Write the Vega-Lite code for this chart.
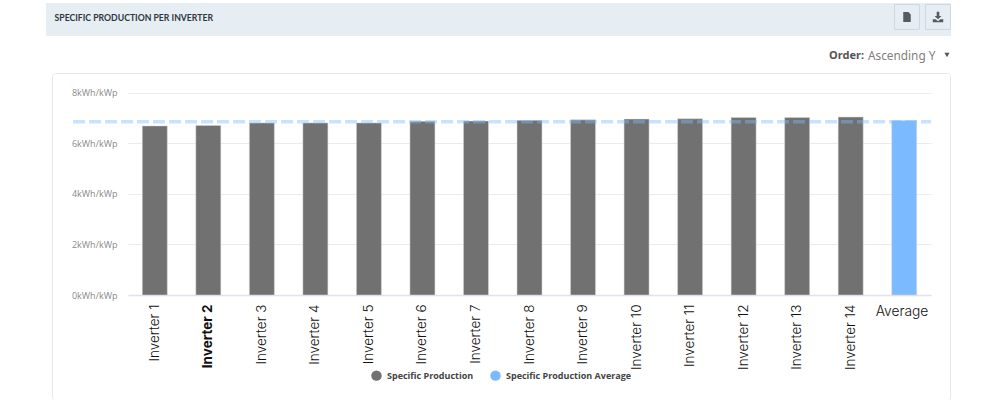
{
"$schema":"https://vega.github.io/schema/vega-lite/v6.json",
"width":898,"height":327,
"autosize":{"type":"none"},
"padding":{"left":52,"top":73,"right":50,"bottom":0},
"background":"#ffffff",
"view":{"stroke":"#e8e8e8","strokeWidth":1,"cornerRadius":3,"fill":"#ffffff"},
"resolve":{"scale":{"x":"independent","y":"independent"}},
"layer":[
{"data":{"values":[{"from":"left","to":"right","top":"top","bottom":"bottom"}]},
 "mark":{"type":"rect","fill":"#e6eef4","clip":false},
 "encoding":{
  "x":{"field":"from","type":"nominal","axis":null,"scale":{"type":"point","domain":["left","right"],"range":[-6,899],"padding":0}},
  "x2":{"field":"to"},
  "y":{"field":"top","type":"nominal","axis":null,"scale":{"type":"point","domain":["top","bottom"],"range":[-70,-37],"padding":0}},
  "y2":{"field":"bottom"}}},
{"data":{"values":[{"label":"SPECIFIC PRODUCTION PER INVERTER","lane":"header"}]},
 "mark":{"type":"text","align":"left","baseline":"middle","font":"Lato","fontWeight":"bold","fontSize":8.7,"fill":"#2f3640"},
 "encoding":{
  "x":{"field":"label","type":"nominal","axis":null,"scale":{"range":[2.5,2.5]}},
  "y":{"field":"lane","type":"nominal","axis":null,"scale":{"range":[-55,-55]}},
  "text":{"field":"label"}}},
{"data":{"values":[{"button":"export","lane":"header"},{"button":"download","lane":"header"}]},
 "mark":{"type":"point","shape":"square","filled":true,"fill":"#e6eef4","stroke":"#cfd8df","strokeWidth":1,"size":620,"opacity":1},
 "encoding":{
  "x":{"field":"button","type":"nominal","axis":null,"scale":{"type":"point","domain":["export","download"],"range":[855,886],"padding":0}},
  "y":{"field":"lane","type":"nominal","axis":null,"scale":{"range":[-56,-56]}}}},
{"data":{"values":[{"button":"export","lane":"header"}]},
 "mark":{"type":"point","shape":"M-0.75 -1L0.3 -1L0.75 -0.5L0.75 1L-0.75 1Z","filled":true,"fill":"#555b60","strokeWidth":0,"size":100,"opacity":1},
 "encoding":{
  "x":{"field":"button","type":"nominal","axis":null,"scale":{"range":[855,855]}},
  "y":{"field":"lane","type":"nominal","axis":null,"scale":{"range":[-56,-56]}}}},
{"data":{"values":[{"button":"download","lane":"header"}]},
 "mark":{"type":"point","shape":"M-0.25 -1L0.25 -1L0.25 -0.2L0.65 -0.2L0 0.45L-0.65 -0.2L-0.25 -0.2ZM-1 0.45L-0.45 0.45L0 0.8L0.45 0.45L1 0.45L1 1L-1 1Z","filled":true,"fill":"#555b60","strokeWidth":0,"size":110,"opacity":1},
 "encoding":{
  "x":{"field":"button","type":"nominal","axis":null,"scale":{"range":[886,886]}},
  "y":{"field":"lane","type":"nominal","axis":null,"scale":{"range":[-56,-56]}}}},
{"data":{"values":[{"label":"Order:","lane":"order"}]},
 "mark":{"type":"text","align":"right","baseline":"middle","font":"Noto Sans","fontWeight":"bold","fontSize":11,"fill":"#555555"},
 "encoding":{
  "x":{"field":"label","type":"nominal","axis":null,"scale":{"range":[812,812]}},
  "y":{"field":"lane","type":"nominal","axis":null,"scale":{"range":[-17.5,-17.5]}},
  "text":{"field":"label"}}},
{"data":{"values":[{"label":"Ascending Y","lane":"order"}]},
 "mark":{"type":"text","align":"left","baseline":"middle","font":"Noto Sans","fontSize":11.8,"fill":"#808080"},
 "encoding":{
  "x":{"field":"label","type":"nominal","axis":null,"scale":{"range":[816,816]}},
  "y":{"field":"lane","type":"nominal","axis":null,"scale":{"range":[-17.5,-17.5]}},
  "text":{"field":"label"}}},
{"data":{"values":[{"item":"caret","lane":"order"}]},
 "mark":{"type":"point","shape":"triangle-down","filled":true,"fill":"#555555","strokeWidth":0,"size":26,"opacity":1},
 "encoding":{
  "x":{"field":"item","type":"nominal","axis":null,"scale":{"range":[895,895]}},
  "y":{"field":"lane","type":"nominal","axis":null,"scale":{"range":[-18,-18]}}}},
{"data":{"values":[
 {"inverter":"Inverter 1","production":6.68,"series":"Specific Production"},
 {"inverter":"Inverter 2","production":6.7,"series":"Specific Production"},
 {"inverter":"Inverter 3","production":6.8,"series":"Specific Production"},
 {"inverter":"Inverter 4","production":6.8,"series":"Specific Production"},
 {"inverter":"Inverter 5","production":6.8,"series":"Specific Production"},
 {"inverter":"Inverter 6","production":6.86,"series":"Specific Production"},
 {"inverter":"Inverter 7","production":6.87,"series":"Specific Production"},
 {"inverter":"Inverter 8","production":6.9,"series":"Specific Production"},
 {"inverter":"Inverter 9","production":6.92,"series":"Specific Production"},
 {"inverter":"Inverter 10","production":6.95,"series":"Specific Production"},
 {"inverter":"Inverter 11","production":6.96,"series":"Specific Production"},
 {"inverter":"Inverter 12","production":7.01,"series":"Specific Production"},
 {"inverter":"Inverter 13","production":7.01,"series":"Specific Production"},
 {"inverter":"Inverter 14","production":7.03,"series":"Specific Production"},
 {"inverter":"Average","production":6.89,"series":"Specific Production Average"}]},
 "mark":{"type":"bar","stroke":"#d8d8d8","strokeWidth":0.5},
 "encoding":{
  "x":{"field":"inverter","type":"nominal","sort":null,
   "scale":{"type":"band","range":[76,879],"paddingInner":0.533,"paddingOuter":0.267},
   "axis":{"title":null,"offset":-105,"domainColor":"#e0e2ee","domainWidth":1.5,"ticks":false,"labelAngle":-90,"labelAlign":"right","labelBaseline":"middle","labelPadding":9,"labelFont":"Inter","labelFontSize":13.5,"labelColor":"#111111","labelOverlap":false,"labelFlush":false,"labelBound":false,
    "labelFontWeight":{"condition":{"test":"datum.value === 'Inverter 2'","value":"bold"},"value":300},
    "labelExpr":"datum.value === 'Average' ? '' : datum.label"}},
  "y":{"field":"production","type":"quantitative",
   "scale":{"domain":[0,8],"range":[222,19.5],"nice":false},
   "axis":{"title":null,"offset":-76,"values":[0,2,4,6,8],"domain":false,"ticks":false,"grid":true,"gridColor":"#ebebeb","labelPadding":11,"labelFont":"Open Sans","labelFontSize":9,"labelColor":"#8a8a8a","labelExpr":"datum.value + 'kWh/kWp'"}},
  "color":{"field":"series","type":"nominal",
   "scale":{"domain":["Specific Production","Specific Production Average"],"range":["#717171","#7cbaff"]},
   "legend":{"title":null,"orient":"none","legendX":319,"legendY":297,"direction":"horizontal","columns":2,"symbolType":"circle","symbolSize":110,"symbolStrokeWidth":0,"labelFont":"Open Sans","labelFontWeight":"bold","labelFontSize":9,"labelColor":"#444444","labelOffset":5,"columnPadding":16}}}},
{"data":{"values":[{"item":"Average","production":0}]},
 "mark":{"type":"text","baseline":"middle","align":"center","font":"Inter","fontWeight":300,"fontSize":13.8,"dy":17,"fill":"#111111"},
 "encoding":{
  "x":{"field":"item","type":"nominal","axis":null,"scale":{"range":[850,850]}},
  "y":{"field":"production","type":"quantitative","axis":null,"scale":{"domain":[0,8],"range":[222,19.5],"nice":false}},
  "text":{"field":"item"}}},
{"data":{"values":[{"end":"start","average":6.84},{"end":"stop","average":6.84}]},
 "mark":{"type":"line","stroke":"#7cbaff","strokeWidth":3.5,"strokeDash":[12,4],"opacity":0.42,"clip":false},
 "encoding":{
  "x":{"field":"end","type":"nominal","axis":null,"scale":{"type":"point","domain":["start","stop"],"range":[21,879],"padding":0}},
  "y":{"field":"average","type":"quantitative","axis":null,"scale":{"domain":[0,8],"range":[222,19.5],"nice":false}}}}
]}
